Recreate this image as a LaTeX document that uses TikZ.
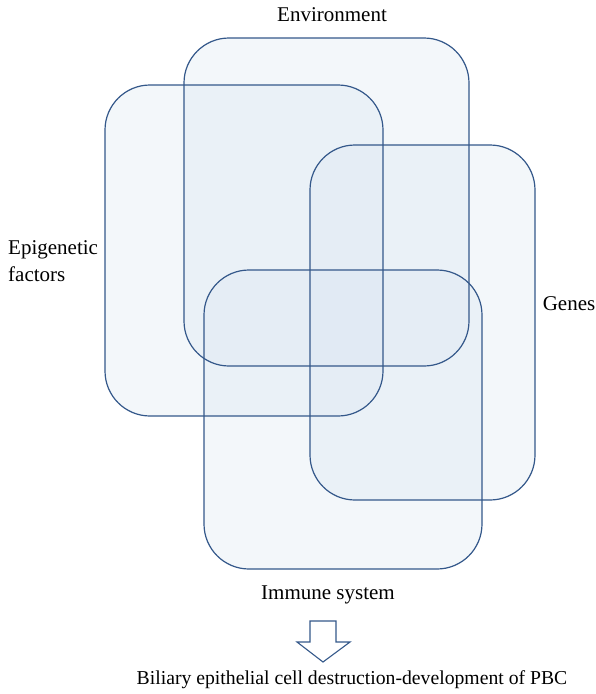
\documentclass[tikz,border=0pt]{standalone}
\usepackage{fontspec}
\setmainfont{Liberation Serif}
\definecolor{edge}{RGB}{52,88,138}
\definecolor{boxfill}{RGB}{215,227,240}
\begin{document}
\begin{tikzpicture}[x=1pt,y=-1pt,
  boxfill/.style={fill=boxfill, fill opacity=0.3, rounded corners=45pt},
  boxline/.style={draw=edge, line width=1.2pt, rounded corners=45pt},
  lbl/.style={font=\fontsize{21}{27}\selectfont, inner sep=0pt},
  arr/.style={draw=edge, line width=1.1pt, fill=white}]
\useasboundingbox (0,0) rectangle (596,694);
\fill[boxfill] (184,38) rectangle (469,366);
\fill[boxfill] (105,85) rectangle (383,416);
\fill[boxfill] (310,145) rectangle (535,500);
\fill[boxfill] (204,270) rectangle (482,569);
\draw[boxline] (184,38) rectangle (469,366) node[pos=0.5, inner sep=0pt] (env) {};
\draw[boxline] (105,85) rectangle (383,416) node[pos=0.5, inner sep=0pt] (epi) {};
\draw[boxline] (310,145) rectangle (535,500) node[pos=0.5, inner sep=0pt] (gen) {};
\draw[boxline] (204,270) rectangle (482,569) node[pos=0.5, inner sep=0pt] (imm) {};
\node[lbl] (tenv) at (332,15) {Environment};
\node[lbl, anchor=west, align=left] (tepi) at (8,261) {Epigenetic\\factors};
\node[lbl] (tgen) at (569,304) {Genes};
\node[lbl] (timm) at (328,595) {Immune system};
\draw[arr] (310,621) -- (336,621) -- (336,642) -- (350,642) -- (323,662) -- (297,642) -- (310,642) -- cycle;
\node[lbl, font=\fontsize{19.7}{24}\selectfont] (tbil) at (352,680) {Biliary epithelial cell destruction-development of PBC};
\end{tikzpicture}
\end{document}
